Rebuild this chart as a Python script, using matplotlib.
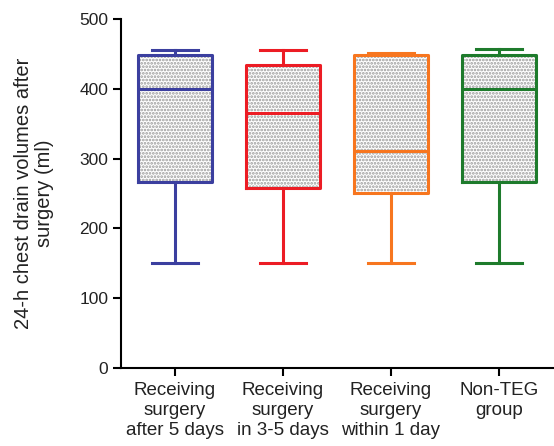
import matplotlib
matplotlib.use("Agg")
import matplotlib.pyplot as plt

plt.rcParams['font.family'] = ['Liberation Sans', 'DejaVu Sans']
plt.rcParams['hatch.linewidth'] = 1.3
plt.rcParams['text.color'] = '#222222'
plt.rcParams['xtick.labelcolor'] = '#222222'
plt.rcParams['ytick.labelcolor'] = '#222222'
plt.rcParams['axes.labelcolor'] = '#222222'

# values (ml)
groups = ["Receiving\nsurgery\nafter 5 days", "Receiving\nsurgery\nin 3-5 days",
          "Receiving\nsurgery\nwithin 1 day", "Non-TEG\ngroup"]
whisker_low = [150, 150, 150, 150]
q1 = [266, 258, 251, 266]
medians = [400, 365, 311, 400]
q3 = [448, 435, 448, 448]
whisker_high = [456, 456, 451, 457]
colors = ["#3b3f9f", "#ec1c24", "#f7761f", "#1e7b2c"]

stats = []
for i in range(len(groups)):
    stats.append({"whislo": whisker_low[i], "q1": q1[i], "med": medians[i],
                  "q3": q3[i], "whishi": whisker_high[i], "fliers": []})

fig = plt.figure(figsize=(5.54, 4.46), dpi=100)
ax = fig.add_axes([0.218, 0.175, 0.78, 0.782])

pos = [1, 2, 3, 4]

# hatched fill behind the outlines
ax.bxp(stats, positions=pos, widths=0.68, patch_artist=True, showcaps=False,
       boxprops=dict(facecolor="white", edgecolor="#9a9a9a", hatch=".....", linewidth=0),
       whiskerprops=dict(linewidth=0), medianprops=dict(linewidth=0))

# coloured outlines
for i, c in enumerate(colors):
    ax.bxp([stats[i]], positions=[pos[i]], widths=0.68, capwidths=0.43,
           boxprops=dict(color=c, linewidth=2.2),
           whiskerprops=dict(color=c, linewidth=2.2),
           capprops=dict(color=c, linewidth=2.2),
           medianprops=dict(color=c, linewidth=2.2))

ax.set_xlim(0.5, 4.5)
ax.set_ylim(0, 500)
ax.set_yticks([0, 100, 200, 300, 400, 500])
ax.set_xticks(pos)
ax.set_xticklabels(groups, fontsize=13.5, linespacing=1.22)
ax.tick_params(axis="y", labelsize=12.5, length=6, width=1.5, pad=3)
ax.tick_params(axis="x", length=6, width=1.5, pad=4)
ax.spines["top"].set_visible(False)
ax.spines["right"].set_visible(False)
ax.spines["left"].set_linewidth(1.5)
ax.spines["bottom"].set_linewidth(1.5)
ax.set_ylabel("24-h chest drain volumes after\nsurgery (ml)", fontsize=14.5, labelpad=18, linespacing=1.12)

fig.savefig("out.png", dpi=100)
